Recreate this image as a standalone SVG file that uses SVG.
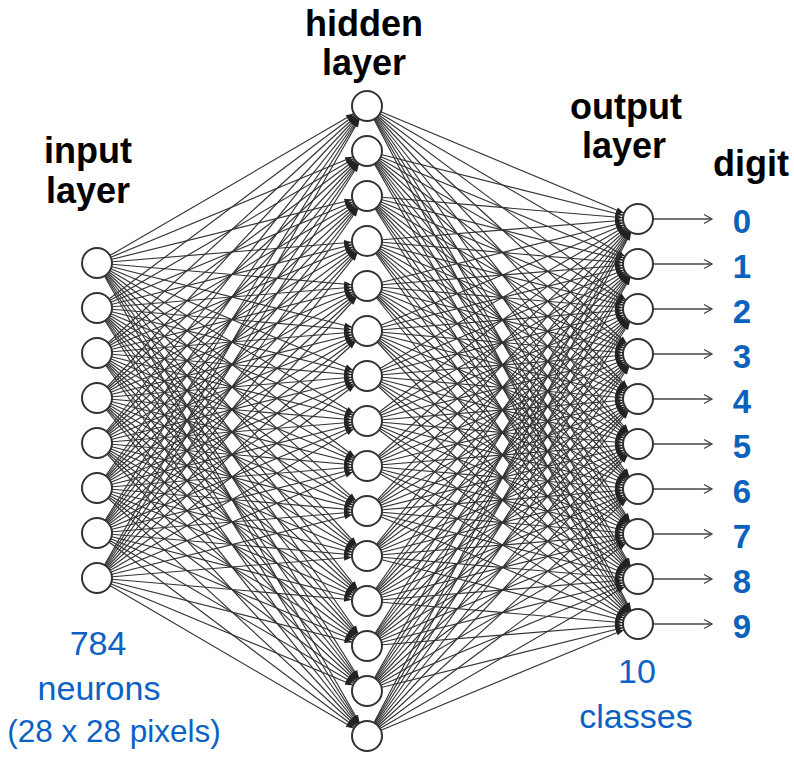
<svg xmlns="http://www.w3.org/2000/svg" width="794" height="757" viewBox="0 0 794 757">
<style>
.c line{stroke:#333;stroke-width:1.15;fill:none}
.c{marker-end:url(#ah)}
.o line{stroke:#444;stroke-width:1.3}
.o{marker-end:url(#oa)}
.n circle{fill:#fff;stroke:#333;stroke-width:2}
.t{font-family:"Liberation Sans",Arial,Helvetica,sans-serif;font-weight:bold;font-size:36px;fill:#000;text-anchor:middle}
.b{font-family:"Liberation Sans",Arial,Helvetica,sans-serif;font-size:34px;fill:#0b62c4;text-anchor:middle}
.b.s{font-size:31.5px}
.d{font-family:"Liberation Sans",Arial,Helvetica,sans-serif;font-weight:bold;font-size:33px;fill:#0a62bd;text-anchor:middle}
</style>
<defs>
<marker id="ah" markerUnits="userSpaceOnUse" viewBox="-30 -6 30 12" markerWidth="30" markerHeight="12" refX="0" refY="0" orient="auto">
<path d="M-15,0 L-23,-2.8 L-23,2.8 Z" fill="#222"/>
</marker>
<marker id="oa" markerUnits="userSpaceOnUse" viewBox="-10 -6 12 12" markerWidth="12" markerHeight="12" refX="0" refY="0" orient="auto">
<path d="M-8,-4.5 L0,0 L-8,4.5" fill="none" stroke="#444" stroke-width="1.3"/>
</marker>
</defs>
<g id="connectors">
<g class="c" id="input-hidden">
<line x1="97" y1="263" x2="367" y2="106"/><line x1="97" y1="263" x2="367" y2="151"/><line x1="97" y1="263" x2="367" y2="196"/><line x1="97" y1="263" x2="367" y2="241"/><line x1="97" y1="263" x2="367" y2="286"/><line x1="97" y1="263" x2="367" y2="331"/><line x1="97" y1="263" x2="367" y2="376"/><line x1="97" y1="263" x2="367" y2="421"/><line x1="97" y1="263" x2="367" y2="466"/><line x1="97" y1="263" x2="367" y2="511"/><line x1="97" y1="263" x2="367" y2="556"/><line x1="97" y1="263" x2="367" y2="601"/><line x1="97" y1="263" x2="367" y2="646"/><line x1="97" y1="263" x2="367" y2="691"/><line x1="97" y1="263" x2="367" y2="736"/>
<line x1="97" y1="308" x2="367" y2="106"/><line x1="97" y1="308" x2="367" y2="151"/><line x1="97" y1="308" x2="367" y2="196"/><line x1="97" y1="308" x2="367" y2="241"/><line x1="97" y1="308" x2="367" y2="286"/><line x1="97" y1="308" x2="367" y2="331"/><line x1="97" y1="308" x2="367" y2="376"/><line x1="97" y1="308" x2="367" y2="421"/><line x1="97" y1="308" x2="367" y2="466"/><line x1="97" y1="308" x2="367" y2="511"/><line x1="97" y1="308" x2="367" y2="556"/><line x1="97" y1="308" x2="367" y2="601"/><line x1="97" y1="308" x2="367" y2="646"/><line x1="97" y1="308" x2="367" y2="691"/><line x1="97" y1="308" x2="367" y2="736"/>
<line x1="97" y1="353" x2="367" y2="106"/><line x1="97" y1="353" x2="367" y2="151"/><line x1="97" y1="353" x2="367" y2="196"/><line x1="97" y1="353" x2="367" y2="241"/><line x1="97" y1="353" x2="367" y2="286"/><line x1="97" y1="353" x2="367" y2="331"/><line x1="97" y1="353" x2="367" y2="376"/><line x1="97" y1="353" x2="367" y2="421"/><line x1="97" y1="353" x2="367" y2="466"/><line x1="97" y1="353" x2="367" y2="511"/><line x1="97" y1="353" x2="367" y2="556"/><line x1="97" y1="353" x2="367" y2="601"/><line x1="97" y1="353" x2="367" y2="646"/><line x1="97" y1="353" x2="367" y2="691"/><line x1="97" y1="353" x2="367" y2="736"/>
<line x1="97" y1="398" x2="367" y2="106"/><line x1="97" y1="398" x2="367" y2="151"/><line x1="97" y1="398" x2="367" y2="196"/><line x1="97" y1="398" x2="367" y2="241"/><line x1="97" y1="398" x2="367" y2="286"/><line x1="97" y1="398" x2="367" y2="331"/><line x1="97" y1="398" x2="367" y2="376"/><line x1="97" y1="398" x2="367" y2="421"/><line x1="97" y1="398" x2="367" y2="466"/><line x1="97" y1="398" x2="367" y2="511"/><line x1="97" y1="398" x2="367" y2="556"/><line x1="97" y1="398" x2="367" y2="601"/><line x1="97" y1="398" x2="367" y2="646"/><line x1="97" y1="398" x2="367" y2="691"/><line x1="97" y1="398" x2="367" y2="736"/>
<line x1="97" y1="443" x2="367" y2="106"/><line x1="97" y1="443" x2="367" y2="151"/><line x1="97" y1="443" x2="367" y2="196"/><line x1="97" y1="443" x2="367" y2="241"/><line x1="97" y1="443" x2="367" y2="286"/><line x1="97" y1="443" x2="367" y2="331"/><line x1="97" y1="443" x2="367" y2="376"/><line x1="97" y1="443" x2="367" y2="421"/><line x1="97" y1="443" x2="367" y2="466"/><line x1="97" y1="443" x2="367" y2="511"/><line x1="97" y1="443" x2="367" y2="556"/><line x1="97" y1="443" x2="367" y2="601"/><line x1="97" y1="443" x2="367" y2="646"/><line x1="97" y1="443" x2="367" y2="691"/><line x1="97" y1="443" x2="367" y2="736"/>
<line x1="97" y1="488" x2="367" y2="106"/><line x1="97" y1="488" x2="367" y2="151"/><line x1="97" y1="488" x2="367" y2="196"/><line x1="97" y1="488" x2="367" y2="241"/><line x1="97" y1="488" x2="367" y2="286"/><line x1="97" y1="488" x2="367" y2="331"/><line x1="97" y1="488" x2="367" y2="376"/><line x1="97" y1="488" x2="367" y2="421"/><line x1="97" y1="488" x2="367" y2="466"/><line x1="97" y1="488" x2="367" y2="511"/><line x1="97" y1="488" x2="367" y2="556"/><line x1="97" y1="488" x2="367" y2="601"/><line x1="97" y1="488" x2="367" y2="646"/><line x1="97" y1="488" x2="367" y2="691"/><line x1="97" y1="488" x2="367" y2="736"/>
<line x1="97" y1="533" x2="367" y2="106"/><line x1="97" y1="533" x2="367" y2="151"/><line x1="97" y1="533" x2="367" y2="196"/><line x1="97" y1="533" x2="367" y2="241"/><line x1="97" y1="533" x2="367" y2="286"/><line x1="97" y1="533" x2="367" y2="331"/><line x1="97" y1="533" x2="367" y2="376"/><line x1="97" y1="533" x2="367" y2="421"/><line x1="97" y1="533" x2="367" y2="466"/><line x1="97" y1="533" x2="367" y2="511"/><line x1="97" y1="533" x2="367" y2="556"/><line x1="97" y1="533" x2="367" y2="601"/><line x1="97" y1="533" x2="367" y2="646"/><line x1="97" y1="533" x2="367" y2="691"/><line x1="97" y1="533" x2="367" y2="736"/>
<line x1="97" y1="578" x2="367" y2="106"/><line x1="97" y1="578" x2="367" y2="151"/><line x1="97" y1="578" x2="367" y2="196"/><line x1="97" y1="578" x2="367" y2="241"/><line x1="97" y1="578" x2="367" y2="286"/><line x1="97" y1="578" x2="367" y2="331"/><line x1="97" y1="578" x2="367" y2="376"/><line x1="97" y1="578" x2="367" y2="421"/><line x1="97" y1="578" x2="367" y2="466"/><line x1="97" y1="578" x2="367" y2="511"/><line x1="97" y1="578" x2="367" y2="556"/><line x1="97" y1="578" x2="367" y2="601"/><line x1="97" y1="578" x2="367" y2="646"/><line x1="97" y1="578" x2="367" y2="691"/><line x1="97" y1="578" x2="367" y2="736"/>
</g>
<g class="c" id="hidden-output">
<line x1="367" y1="106" x2="638" y2="219"/><line x1="367" y1="106" x2="638" y2="264"/><line x1="367" y1="106" x2="638" y2="309"/><line x1="367" y1="106" x2="638" y2="354"/><line x1="367" y1="106" x2="638" y2="399"/><line x1="367" y1="106" x2="638" y2="444"/><line x1="367" y1="106" x2="638" y2="489"/><line x1="367" y1="106" x2="638" y2="534"/><line x1="367" y1="106" x2="638" y2="579"/><line x1="367" y1="106" x2="638" y2="624"/>
<line x1="367" y1="151" x2="638" y2="219"/><line x1="367" y1="151" x2="638" y2="264"/><line x1="367" y1="151" x2="638" y2="309"/><line x1="367" y1="151" x2="638" y2="354"/><line x1="367" y1="151" x2="638" y2="399"/><line x1="367" y1="151" x2="638" y2="444"/><line x1="367" y1="151" x2="638" y2="489"/><line x1="367" y1="151" x2="638" y2="534"/><line x1="367" y1="151" x2="638" y2="579"/><line x1="367" y1="151" x2="638" y2="624"/>
<line x1="367" y1="196" x2="638" y2="219"/><line x1="367" y1="196" x2="638" y2="264"/><line x1="367" y1="196" x2="638" y2="309"/><line x1="367" y1="196" x2="638" y2="354"/><line x1="367" y1="196" x2="638" y2="399"/><line x1="367" y1="196" x2="638" y2="444"/><line x1="367" y1="196" x2="638" y2="489"/><line x1="367" y1="196" x2="638" y2="534"/><line x1="367" y1="196" x2="638" y2="579"/><line x1="367" y1="196" x2="638" y2="624"/>
<line x1="367" y1="241" x2="638" y2="219"/><line x1="367" y1="241" x2="638" y2="264"/><line x1="367" y1="241" x2="638" y2="309"/><line x1="367" y1="241" x2="638" y2="354"/><line x1="367" y1="241" x2="638" y2="399"/><line x1="367" y1="241" x2="638" y2="444"/><line x1="367" y1="241" x2="638" y2="489"/><line x1="367" y1="241" x2="638" y2="534"/><line x1="367" y1="241" x2="638" y2="579"/><line x1="367" y1="241" x2="638" y2="624"/>
<line x1="367" y1="286" x2="638" y2="219"/><line x1="367" y1="286" x2="638" y2="264"/><line x1="367" y1="286" x2="638" y2="309"/><line x1="367" y1="286" x2="638" y2="354"/><line x1="367" y1="286" x2="638" y2="399"/><line x1="367" y1="286" x2="638" y2="444"/><line x1="367" y1="286" x2="638" y2="489"/><line x1="367" y1="286" x2="638" y2="534"/><line x1="367" y1="286" x2="638" y2="579"/><line x1="367" y1="286" x2="638" y2="624"/>
<line x1="367" y1="331" x2="638" y2="219"/><line x1="367" y1="331" x2="638" y2="264"/><line x1="367" y1="331" x2="638" y2="309"/><line x1="367" y1="331" x2="638" y2="354"/><line x1="367" y1="331" x2="638" y2="399"/><line x1="367" y1="331" x2="638" y2="444"/><line x1="367" y1="331" x2="638" y2="489"/><line x1="367" y1="331" x2="638" y2="534"/><line x1="367" y1="331" x2="638" y2="579"/><line x1="367" y1="331" x2="638" y2="624"/>
<line x1="367" y1="376" x2="638" y2="219"/><line x1="367" y1="376" x2="638" y2="264"/><line x1="367" y1="376" x2="638" y2="309"/><line x1="367" y1="376" x2="638" y2="354"/><line x1="367" y1="376" x2="638" y2="399"/><line x1="367" y1="376" x2="638" y2="444"/><line x1="367" y1="376" x2="638" y2="489"/><line x1="367" y1="376" x2="638" y2="534"/><line x1="367" y1="376" x2="638" y2="579"/><line x1="367" y1="376" x2="638" y2="624"/>
<line x1="367" y1="421" x2="638" y2="219"/><line x1="367" y1="421" x2="638" y2="264"/><line x1="367" y1="421" x2="638" y2="309"/><line x1="367" y1="421" x2="638" y2="354"/><line x1="367" y1="421" x2="638" y2="399"/><line x1="367" y1="421" x2="638" y2="444"/><line x1="367" y1="421" x2="638" y2="489"/><line x1="367" y1="421" x2="638" y2="534"/><line x1="367" y1="421" x2="638" y2="579"/><line x1="367" y1="421" x2="638" y2="624"/>
<line x1="367" y1="466" x2="638" y2="219"/><line x1="367" y1="466" x2="638" y2="264"/><line x1="367" y1="466" x2="638" y2="309"/><line x1="367" y1="466" x2="638" y2="354"/><line x1="367" y1="466" x2="638" y2="399"/><line x1="367" y1="466" x2="638" y2="444"/><line x1="367" y1="466" x2="638" y2="489"/><line x1="367" y1="466" x2="638" y2="534"/><line x1="367" y1="466" x2="638" y2="579"/><line x1="367" y1="466" x2="638" y2="624"/>
<line x1="367" y1="511" x2="638" y2="219"/><line x1="367" y1="511" x2="638" y2="264"/><line x1="367" y1="511" x2="638" y2="309"/><line x1="367" y1="511" x2="638" y2="354"/><line x1="367" y1="511" x2="638" y2="399"/><line x1="367" y1="511" x2="638" y2="444"/><line x1="367" y1="511" x2="638" y2="489"/><line x1="367" y1="511" x2="638" y2="534"/><line x1="367" y1="511" x2="638" y2="579"/><line x1="367" y1="511" x2="638" y2="624"/>
<line x1="367" y1="556" x2="638" y2="219"/><line x1="367" y1="556" x2="638" y2="264"/><line x1="367" y1="556" x2="638" y2="309"/><line x1="367" y1="556" x2="638" y2="354"/><line x1="367" y1="556" x2="638" y2="399"/><line x1="367" y1="556" x2="638" y2="444"/><line x1="367" y1="556" x2="638" y2="489"/><line x1="367" y1="556" x2="638" y2="534"/><line x1="367" y1="556" x2="638" y2="579"/><line x1="367" y1="556" x2="638" y2="624"/>
<line x1="367" y1="601" x2="638" y2="219"/><line x1="367" y1="601" x2="638" y2="264"/><line x1="367" y1="601" x2="638" y2="309"/><line x1="367" y1="601" x2="638" y2="354"/><line x1="367" y1="601" x2="638" y2="399"/><line x1="367" y1="601" x2="638" y2="444"/><line x1="367" y1="601" x2="638" y2="489"/><line x1="367" y1="601" x2="638" y2="534"/><line x1="367" y1="601" x2="638" y2="579"/><line x1="367" y1="601" x2="638" y2="624"/>
<line x1="367" y1="646" x2="638" y2="219"/><line x1="367" y1="646" x2="638" y2="264"/><line x1="367" y1="646" x2="638" y2="309"/><line x1="367" y1="646" x2="638" y2="354"/><line x1="367" y1="646" x2="638" y2="399"/><line x1="367" y1="646" x2="638" y2="444"/><line x1="367" y1="646" x2="638" y2="489"/><line x1="367" y1="646" x2="638" y2="534"/><line x1="367" y1="646" x2="638" y2="579"/><line x1="367" y1="646" x2="638" y2="624"/>
<line x1="367" y1="691" x2="638" y2="219"/><line x1="367" y1="691" x2="638" y2="264"/><line x1="367" y1="691" x2="638" y2="309"/><line x1="367" y1="691" x2="638" y2="354"/><line x1="367" y1="691" x2="638" y2="399"/><line x1="367" y1="691" x2="638" y2="444"/><line x1="367" y1="691" x2="638" y2="489"/><line x1="367" y1="691" x2="638" y2="534"/><line x1="367" y1="691" x2="638" y2="579"/><line x1="367" y1="691" x2="638" y2="624"/>
<line x1="367" y1="736" x2="638" y2="219"/><line x1="367" y1="736" x2="638" y2="264"/><line x1="367" y1="736" x2="638" y2="309"/><line x1="367" y1="736" x2="638" y2="354"/><line x1="367" y1="736" x2="638" y2="399"/><line x1="367" y1="736" x2="638" y2="444"/><line x1="367" y1="736" x2="638" y2="489"/><line x1="367" y1="736" x2="638" y2="534"/><line x1="367" y1="736" x2="638" y2="579"/><line x1="367" y1="736" x2="638" y2="624"/>
</g>
<g class="o" id="output-digit">
<line x1="653" y1="219" x2="712" y2="219"/><line x1="653" y1="264" x2="712" y2="264"/><line x1="653" y1="309" x2="712" y2="309"/><line x1="653" y1="354" x2="712" y2="354"/><line x1="653" y1="399" x2="712" y2="399"/><line x1="653" y1="444" x2="712" y2="444"/><line x1="653" y1="489" x2="712" y2="489"/><line x1="653" y1="534" x2="712" y2="534"/><line x1="653" y1="579" x2="712" y2="579"/><line x1="653" y1="624" x2="712" y2="624"/>
</g>
</g>
<g id="input-layer" class="n">
<g id="in0"><circle cx="97" cy="263" r="15"/></g>
<g id="in1"><circle cx="97" cy="308" r="15"/></g>
<g id="in2"><circle cx="97" cy="353" r="15"/></g>
<g id="in3"><circle cx="97" cy="398" r="15"/></g>
<g id="in4"><circle cx="97" cy="443" r="15"/></g>
<g id="in5"><circle cx="97" cy="488" r="15"/></g>
<g id="in6"><circle cx="97" cy="533" r="15"/></g>
<g id="in7"><circle cx="97" cy="578" r="15"/></g>
</g>
<g id="hidden-layer" class="n">
<g id="h0"><circle cx="367" cy="106" r="15"/></g>
<g id="h1"><circle cx="367" cy="151" r="15"/></g>
<g id="h2"><circle cx="367" cy="196" r="15"/></g>
<g id="h3"><circle cx="367" cy="241" r="15"/></g>
<g id="h4"><circle cx="367" cy="286" r="15"/></g>
<g id="h5"><circle cx="367" cy="331" r="15"/></g>
<g id="h6"><circle cx="367" cy="376" r="15"/></g>
<g id="h7"><circle cx="367" cy="421" r="15"/></g>
<g id="h8"><circle cx="367" cy="466" r="15"/></g>
<g id="h9"><circle cx="367" cy="511" r="15"/></g>
<g id="h10"><circle cx="367" cy="556" r="15"/></g>
<g id="h11"><circle cx="367" cy="601" r="15"/></g>
<g id="h12"><circle cx="367" cy="646" r="15"/></g>
<g id="h13"><circle cx="367" cy="691" r="15"/></g>
<g id="h14"><circle cx="367" cy="736" r="15"/></g>
</g>
<g id="output-layer" class="n">
<g id="out0"><circle cx="638" cy="219" r="15"/></g>
<g id="out1"><circle cx="638" cy="264" r="15"/></g>
<g id="out2"><circle cx="638" cy="309" r="15"/></g>
<g id="out3"><circle cx="638" cy="354" r="15"/></g>
<g id="out4"><circle cx="638" cy="399" r="15"/></g>
<g id="out5"><circle cx="638" cy="444" r="15"/></g>
<g id="out6"><circle cx="638" cy="489" r="15"/></g>
<g id="out7"><circle cx="638" cy="534" r="15"/></g>
<g id="out8"><circle cx="638" cy="579" r="15"/></g>
<g id="out9"><circle cx="638" cy="624" r="15"/></g>
</g>
<g id="digits">
<text class="d" x="742" y="233">0</text>
<text class="d" x="742" y="278">1</text>
<text class="d" x="742" y="323">2</text>
<text class="d" x="742" y="368">3</text>
<text class="d" x="742" y="413">4</text>
<text class="d" x="742" y="458">5</text>
<text class="d" x="742" y="503">6</text>
<text class="d" x="742" y="548">7</text>
<text class="d" x="742" y="593">8</text>
<text class="d" x="742" y="638">9</text>
</g>
<g id="labels">
<text class="t" x="88" y="163">input</text>
<text class="t" x="88" y="203">layer</text>
<text class="t" x="364" y="36">hidden</text>
<text class="t" x="364" y="75">layer</text>
<text class="t" x="626" y="119">output</text>
<text class="t" x="624" y="158">layer</text>
<text class="t" x="751" y="176">digit</text>
<text class="b" x="98" y="655">784</text>
<text class="b" x="99" y="700">neurons</text>
<text class="b s" x="114" y="742">(28 x 28 pixels)</text>
<text class="b" x="637" y="683">10</text>
<text class="b" x="636" y="728">classes</text>
</g>
</svg>
